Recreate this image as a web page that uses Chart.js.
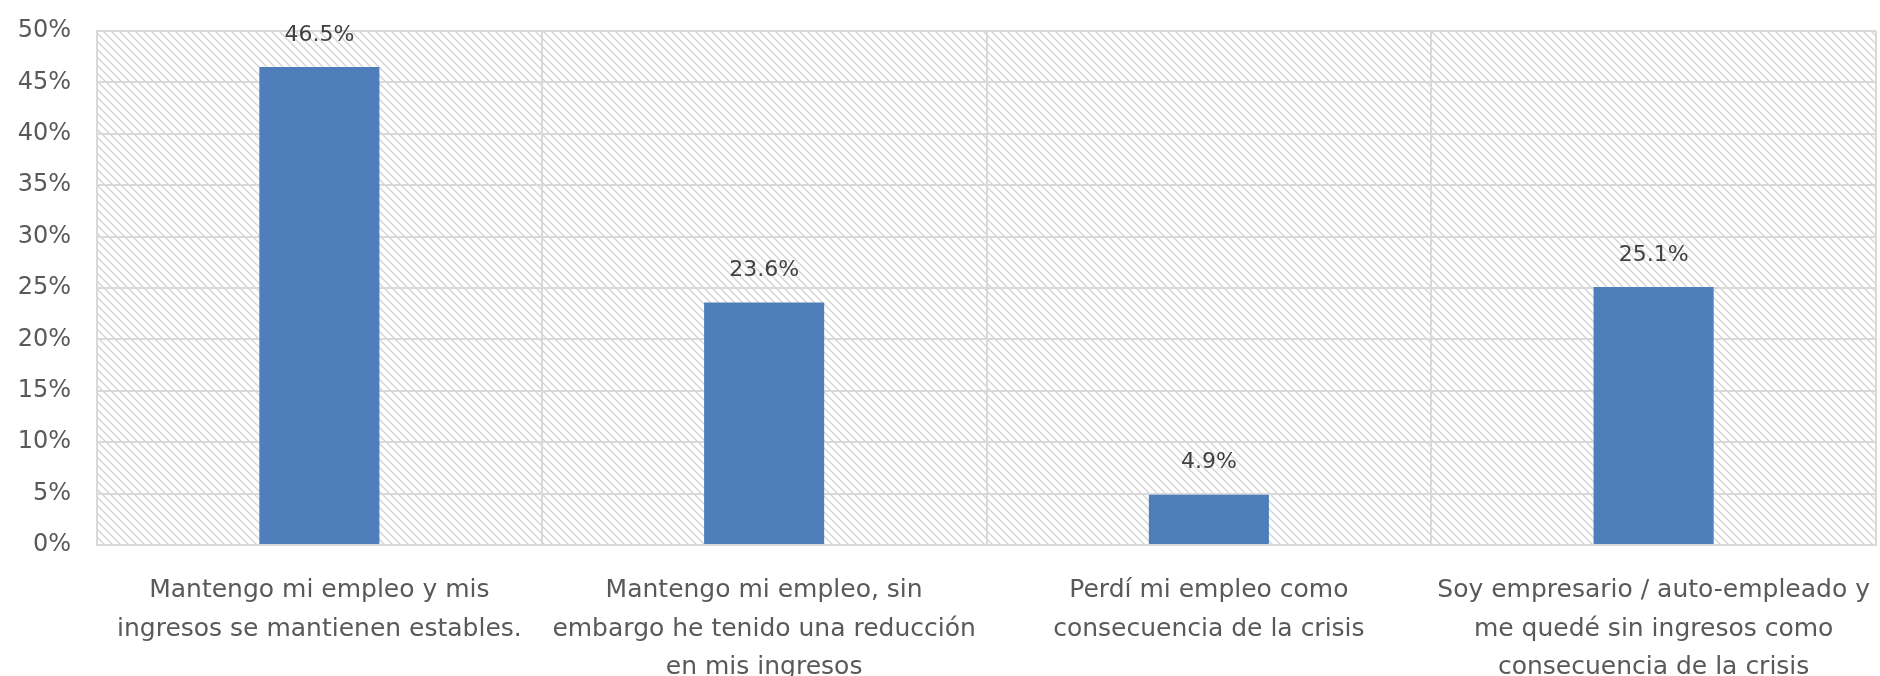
<!DOCTYPE html>
<html>
<head>
<meta charset="utf-8">
<script src="https://cdn.jsdelivr.net/npm/chart.js@4/dist/chart.umd.min.js"></script>
<style>
  html, body { margin: 0; padding: 0; background: #fff; }
  #wrap { width: 1880px; height: 676px; }
</style>
</head>
<body>
<div id="wrap"><canvas id="chart" width="1880" height="676"></canvas></div>
<script>
// Data
const categories = [
    ['Mantengo mi empleo y mis', 'ingresos se mantienen estables.'],
    ['Mantengo mi empleo, sin', 'embargo he tenido una reducción', 'en mis ingresos'],
    ['Perdí mi empleo como', 'consecuencia de la crisis'],
    ['Soy empresario / auto-empleado y', 'me quedé sin ingresos como', 'consecuencia de la crisis']
];
const values = [46.5, 23.6, 4.9, 25.1];
const tickValues = [0, 5, 10, 15, 20, 25, 30, 35, 40, 45, 50];

const FONT = "'DejaVu Sans', sans-serif";
const gridColor = '#d9d9d9';

// hatched plot background
const hatch = (() => {
    const c = document.createElement('canvas');
    c.width = 8; c.height = 8;
    const g = c.getContext('2d');
    g.strokeStyle = '#d4d4d4';
    g.lineWidth = 1.4;
    g.beginPath();
    g.moveTo(-1, -1); g.lineTo(9, 9);
    g.moveTo(-1, 7); g.lineTo(1, 9);
    g.moveTo(7, -1); g.lineTo(9, 1);
    g.stroke();
    return c;
})();

const bgPlugin = {
    id: 'hatchBg',
    beforeDraw(chart) {
        const { ctx, chartArea: a } = chart;
        ctx.save();
        ctx.fillStyle = ctx.createPattern(hatch, 'repeat');
        ctx.fillRect(a.left, a.top, a.right - a.left, a.bottom - a.top);
        ctx.restore();
    }
};

// value labels above the bars
const labelPlugin = {
    id: 'valueLabels',
    afterDatasetsDraw(chart) {
        const { ctx } = chart;
        const meta = chart.getDatasetMeta(0);
        ctx.save();
        ctx.font = '22px ' + FONT;
        ctx.fillStyle = '#404040';
        ctx.textAlign = 'center';
        ctx.textBaseline = 'middle';
        meta.data.forEach((bar, i) => {
            ctx.fillText(values[i].toFixed(1) + '%', bar.x, bar.y - 32);
        });
        ctx.restore();
    }
};

const ctx = document.getElementById('chart').getContext('2d');
new Chart(ctx, {
    type: 'bar',
    data: {
        labels: categories,
        datasets: [{
            data: values,
            backgroundColor: '#4e7fbb',
            categoryPercentage: 1,
            barPercentage: 0.27
        }]
    },
    options: {
        responsive: false,
        animation: false,
        layout: { padding: { top: 31, right: 4, left: 0, bottom: 0 } },
        plugins: { legend: { display: false }, tooltip: { enabled: false } },
        scales: {
            x: {
                grid: { color: gridColor, lineWidth: 2, drawTicks: false, offset: true },
                border: { color: gridColor, width: 2 },
                ticks: {
                    color: '#595959',
                    font: { family: FONT, size: 25, lineHeight: 1.55 },
                    padding: 26,
                    maxRotation: 0,
                    autoSkip: false
                },
                afterFit(s) {
                    s.height = 131;
                    s.paddingLeft = 0;
                    s.paddingRight = 0;
                }
            },
            y: {
                min: 0,
                max: 50,
                afterBuildTicks(s) { s.ticks = tickValues.map(v => ({ value: v })); },
                grid: { color: gridColor, lineWidth: 2, drawTicks: false },
                border: { color: gridColor, width: 2 },
                ticks: {
                    color: '#595959',
                    font: { family: FONT, size: 24 },
                    padding: 26,
                    callback: v => v + '%'
                },
                afterFit(s) {
                    s.width = 97;
                    s.paddingTop = 0;
                    s.paddingBottom = 0;
                }
            }
        }
    },
    plugins: [bgPlugin, labelPlugin]
});
</script>
</body>
</html>
